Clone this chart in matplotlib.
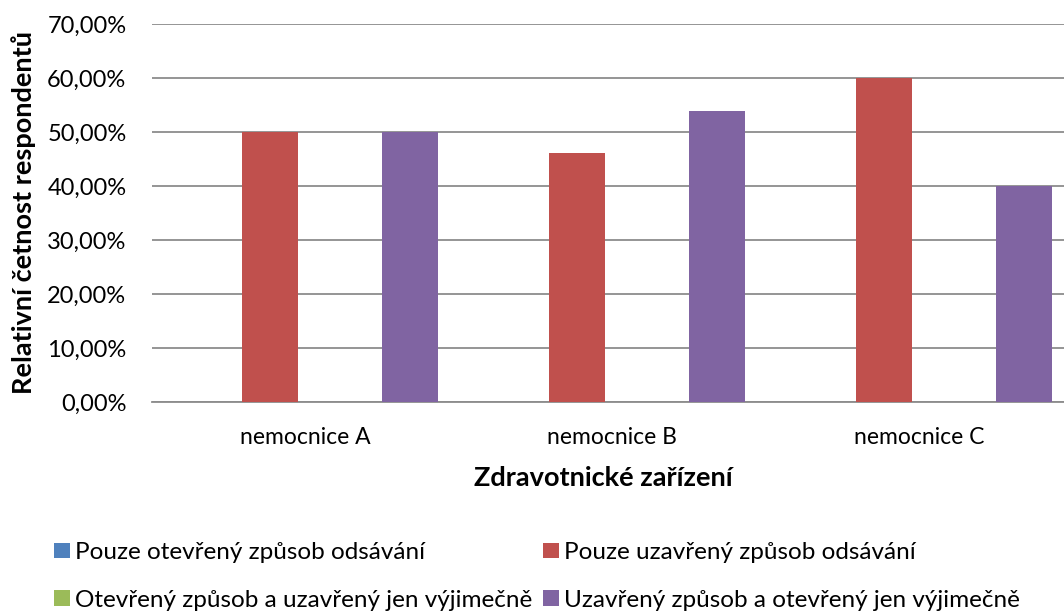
import matplotlib.pyplot as plt
import numpy as np

categories = ["nemocnice A", "nemocnice B", "nemocnice C"]
series_names = ["Pouze otevřený způsob odsávání",
                "Pouze uzavřený způsob odsávání",
                "Otevřený způsob a uzavřený jen výjimečně",
                "Uzavřený způsob a otevřený jen výjimečně"]
only_open = [0.0, 0.0, 0.0]
only_closed = [50.0, 46.15, 60.0]
open_rarely_closed = [0.0, 0.0, 0.0]
closed_rarely_open = [50.0, 53.85, 40.0]
colors = ["#4F81BD", "#C0504D", "#9BBB59", "#8064A2"]

plt.rcParams['font.family'] = ['Lato', 'DejaVu Sans']

fig = plt.figure(figsize=(10.64, 6.14), dpi=100)
ax = fig.add_axes([151.5 / 1064, 1 - 402 / 614, 921 / 1064, 378 / 614])

x = np.arange(len(categories)) + 0.5
step = 70 / 307
width = 56 / 307
all_series = [only_open, only_closed, open_rarely_closed, closed_rarely_open]
bars = []
for i, vals in enumerate(all_series):
    b = ax.bar(x + (i - 1.5) * step, vals, width, color=colors[i],
               label=series_names[i], zorder=3)
    bars.append(b)

ax.set_xlim(0, 3)
ax.set_ylim(0, 70)
ax.set_yticks(range(0, 71, 10))
ax.set_yticklabels([f"{v},00%" for v in range(0, 71, 10)])
ax.set_xticks(x)
ax.set_xticklabels(categories)
ax.tick_params(axis='both', length=0, labelsize=17, colors='black')
ax.tick_params(axis='x', labelsize=16.5)
ax.tick_params(axis='y', pad=18)
ax.tick_params(axis='x', pad=18)
ax.grid(axis='y', color='#8c8c8c', linewidth=1.3, zorder=0)
for s in ['top', 'right', 'left']:
    ax.spines[s].set_visible(False)
ax.spines['bottom'].set_color('#8c8c8c')
ax.spines['bottom'].set_linewidth(1.3)

ax.set_ylabel("Relativní četnost respondentů", fontsize=19.5, fontweight='bold', labelpad=8)
ax.set_xlabel("Zdravotnické zařízení", fontsize=19.5, fontweight='bold')
ax.xaxis.set_label_coords((603 - 151.5) / 921, -(478 - 402) / 378)
ax.xaxis.label.set_va('center')

handles = [bars[0], bars[2], bars[1], bars[3]]
labels = [series_names[0], series_names[2], series_names[1], series_names[3]]
fig.legend(handles, labels, ncol=2, loc='upper left', bbox_to_anchor=(54 / 1064, 1 - 542 / 614),
           frameon=False, fontsize=17.5, handlelength=0.65, handleheight=0.6,
           handletextpad=0.2, columnspacing=0.45, labelspacing=1.1, borderpad=0.0,
           borderaxespad=0.0)

fig.savefig("out.png", dpi=100)
